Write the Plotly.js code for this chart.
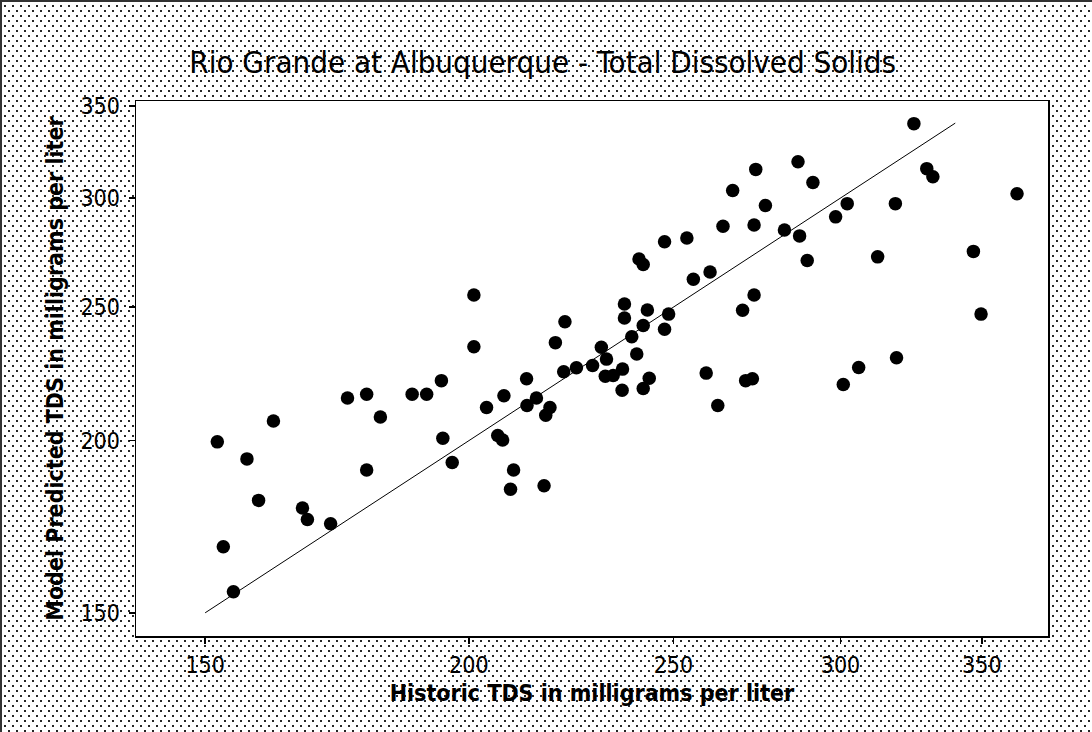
<!DOCTYPE html>
<html>
<head>
<meta charset="utf-8">
<script src="https://cdn.plot.ly/plotly-3.0.1.min.js"></script>
<style>
  html, body { margin: 0; padding: 0; }
  body {
    width: 1092px; height: 732px; overflow: hidden;
    background-color: #ffffff;
    background-image:
      radial-gradient(circle at 1px 1px, #222 0.7px, rgba(0,0,0,0) 1.1px),
      radial-gradient(circle at 5px 6px, #222 0.7px, rgba(0,0,0,0) 1.1px);
    background-size: 8px 10px, 8px 10px;
  }
  #frame {
    position: absolute; left: 0; top: 0; width: 1092px; height: 732px;
    box-sizing: border-box;
    border-left: 2px solid #333; border-top: 2px solid #333;
  }
  #chart { position: absolute; left: 0; top: 0; width: 1092px; height: 732px; }
</style>
</head>
<body>
<div id="frame"></div>
<div id="chart"></div>
<script>
// Historic TDS (x) vs model predicted TDS (y), mg/L
const historicTDS = [
  152, 153, 154.7, 157, 159, 161.6, 166.8, 167.7, 172, 175.2,
  178.9, 178.9, 181.6, 188, 191, 194.1, 194.4, 196.4, 201.1, 201.1,
  203.9, 206.4, 207.5, 207.8, 210, 209.3, 213, 213.1, 215.3, 217.1,
  217.5, 218.5, 219.8, 222.1, 221.8, 224.9,
  228.9, 231.1, 232.4, 232.1, 234.1, 236.5, 236.4, 237, 237, 238.9,
  240.2, 240.8, 241.9, 241.9, 241.9, 243.5, 243, 247.6, 247.6, 248.7,
  253.7, 255.5, 259.1, 260.2, 262.4, 263.9, 266.7, 269.6, 270.5, 272.5,
  273, 273, 273.5, 276.4, 282.2, 286.4, 286.9, 289.3, 291.1, 298.4,
  300.9, 302.2, 306, 312.4, 318.5, 318.9, 325, 329.6, 331.8, 346.8,
  349.7, 363.7
];
const predictedTDS = [
  199.6, 167.5, 155.4, 194, 181, 206.7, 178.7, 175.3, 174.1, 214.8,
  216.1, 190.4, 208.1, 216.1, 216.1, 221.1, 200.8, 192.8, 255.1, 234,
  211.4, 201.7, 200.2, 215.6, 190.4, 184.4, 221.8, 212.1, 214.8, 185.5,
  208.7, 211.4, 235.6, 244, 224.4, 225.9,
  226.8, 233.8, 229.2, 222.7, 223, 225.4, 217.6, 251.3, 245.5, 237.9,
  231.2, 270.9, 268.5, 242.4, 218.2, 222, 248.8, 278.9, 240.9, 247.1,
  280.6, 261.9, 223.9, 265.1, 212.1, 286.2, 303.8, 248.7, 221.1, 221.8,
  286.8, 255.1, 314.7, 296.3, 284.4, 318.7, 281.6, 270.3, 307.9, 290.7,
  219.7, 297.2, 226, 271.9, 297.2, 229.7, 339.7, 315.1, 310.8, 274.4,
  247.1, 302.1
];
// Reference line (y = x)
const refLineX = [150, 340];
const refLineY = [150, 340];
const tickVals = [150, 200, 250, 300, 350];
const tickText = ["150", "200", "250", "300", "350"];

const FONT = "Tahoma, 'DejaVu Sans Condensed', 'DejaVu Sans', sans-serif";

const traces = [
  {
    x: refLineX, y: refLineY, type: 'scatter', mode: 'lines',
    line: { color: '#000', width: 1 }, hoverinfo: 'skip', showlegend: false
  },
  {
    x: historicTDS, y: predictedTDS, type: 'scatter', mode: 'markers',
    marker: { color: '#000', size: 13.5, symbol: 'circle', line: { width: 0 } },
    showlegend: false
  }
];

const layout = {
  width: 1092, height: 732,
  paper_bgcolor: 'rgba(0,0,0,0)',
  plot_bgcolor: '#ffffff',
  margin: { l: 136, r: 44, t: 101, b: 96 },
  font: { family: FONT, color: '#000' },
  title: {
    text: 'Rio Grande at Albuquerque - Total Dissolved Solids',
    font: { family: FONT, size: 31, color: '#000' },
    x: 0.497, xanchor: 'center', y: 0.915, yanchor: 'middle'
  },
  xaxis: {
    type: 'log',
    range: [Math.log10(139.1), Math.log10(376.2)],
    tickvals: tickVals, ticktext: tickText,
    ticks: 'outside', ticklen: 6, tickwidth: 1.5, tickcolor: '#000',
    tickfont: { family: FONT, size: 23, color: '#000' },
    ticklabelstandoff: 2,
    showgrid: false, zeroline: false,
    showline: true, linecolor: '#000', linewidth: 1.5, mirror: true,
    title: { text: '<b>Historic TDS in milligrams per liter</b>',
             font: { family: FONT, size: 23, color: '#000' }, standoff: 8 }
  },
  yaxis: {
    type: 'log',
    range: [Math.log10(144.3), Math.log10(352.8)],
    tickvals: tickVals, ticktext: tickText,
    ticks: 'outside', ticklen: 6, tickwidth: 1.5, tickcolor: '#000',
    tickfont: { family: FONT, size: 23, color: '#000' },
    ticklabelstandoff: 4,
    showgrid: false, zeroline: false,
    showline: true, linecolor: '#000', linewidth: 1.5, mirror: true,
    title: { text: '<b>Model Predicted TDS in milligrams per liter</b>',
             font: { family: FONT, size: 23, color: '#000' }, standoff: 10 }
  }
};

Plotly.newPlot('chart', traces, layout, { displayModeBar: false, staticPlot: true });
</script>
</body>
</html>
